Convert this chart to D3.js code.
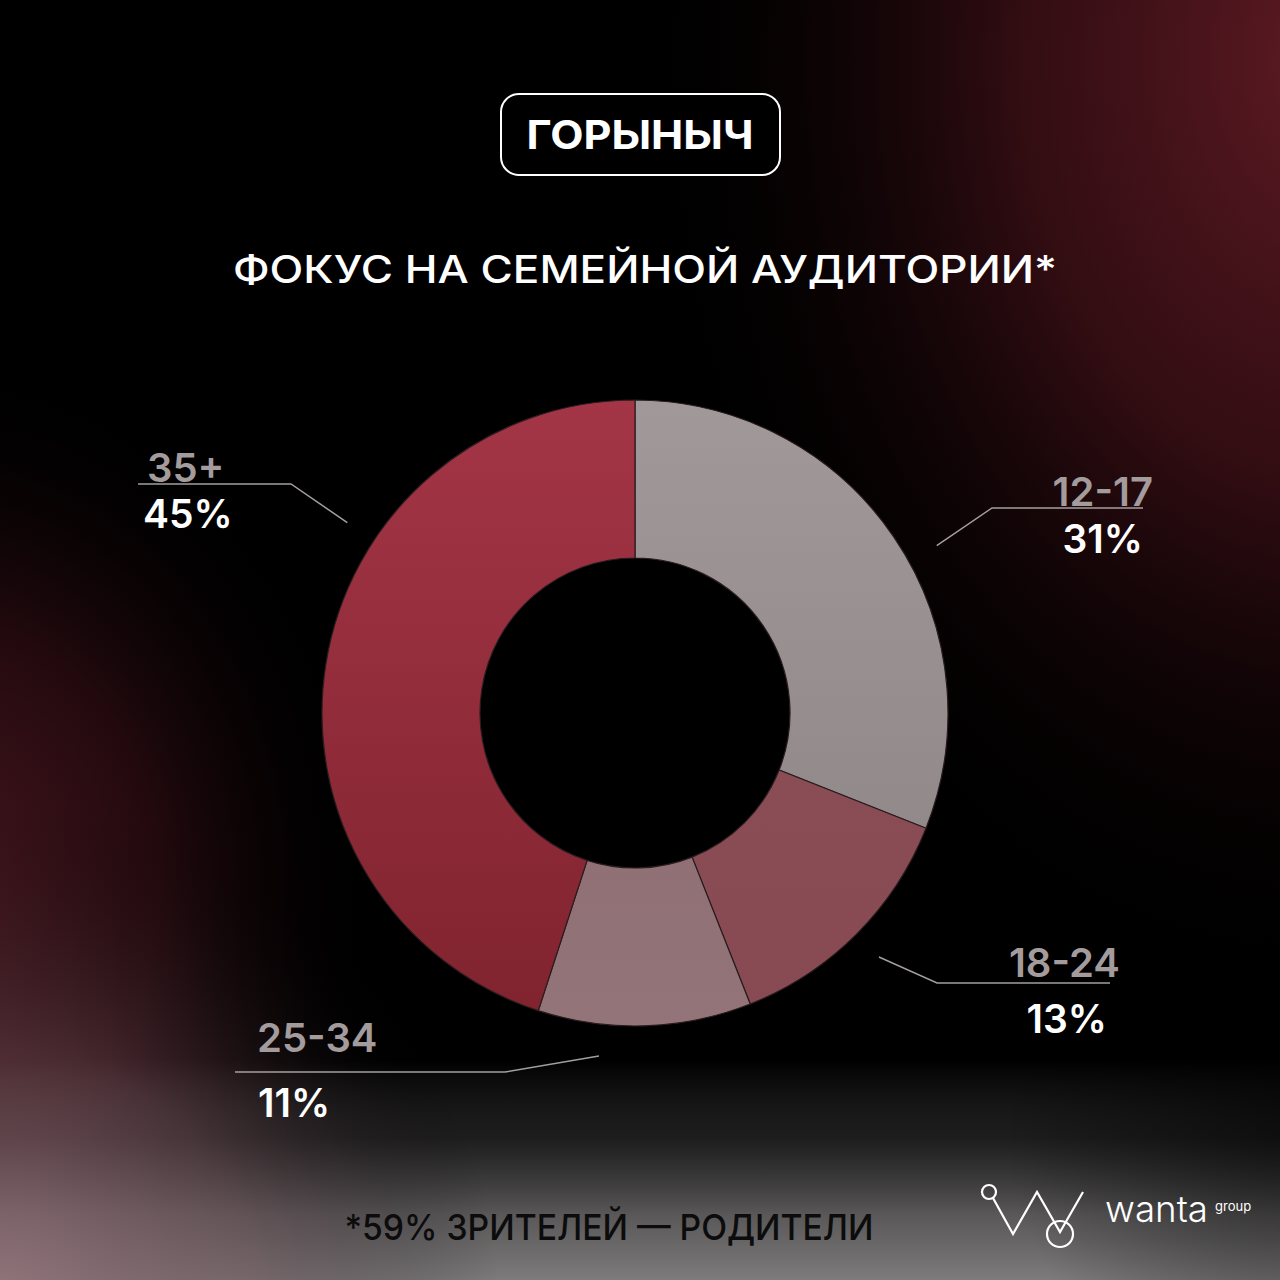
<!DOCTYPE html>
<html>
<head>
<meta charset="utf-8">
<script src="https://cdn.jsdelivr.net/npm/d3@7"></script>
<style>
  html, body { margin: 0; padding: 0; background: #000; }
  svg { display: block; }
  text { font-family: Inter, "Open Sans", "DejaVu Sans", sans-serif; }
</style>
</head>
<body>
<svg id="chart" width="1280" height="1280"></svg>
<script>
// ---- data ----
const categories = ["12-17", "18-24", "25-34", "35+"];
const values = [31, 13, 11, 45];
const valueLabels = ["31%", "13%", "11%", "45%"];
const titleText = "ГОРЫНЫЧ";
const subtitleText = "ФОКУС НА СЕМЕЙНОЙ АУДИТОРИИ*";
const footnoteText = "*59% ЗРИТЕЛЕЙ — РОДИТЕЛИ";

// ---- styles / layout ----
const sliceColors = [
  ["#a19899", "#8b8283"],
  ["#8e5159", "#874a52"],
  ["#87666c", "#937479"],
  ["#a33546", "#80232f"]
];
const labelLayout = [
  { ang: 61,    elbow: [992, 508],  endX: 1143, side: "right", labelX: 1153, labelY: 506, valX: 1143, valY: 553 },
  { ang: 135,   elbow: [937, 983],  endX: 1110, side: "right", labelX: 1120, labelY: 977, valX: 1107, valY: 1033 },
  { ang: 186,   elbow: [505, 1072], endX: 235,  side: "left",  labelX: 257,  labelY: 1052, valX: 258, valY: 1117 },
  { ang: 303.5, elbow: [291, 484],  endX: 138,  side: "left",  labelX: 147,  labelY: 482, valX: 143, valY: 528 }
];

const W = 1280, H = 1280;
const cx = 635, cy = 713, rOuter = 313, rInner = 155, rLeader = 345;

const svg = d3.select("#chart");
const defs = svg.append("defs");

// ---- background ----
svg.append("rect").attr("width", W).attr("height", H).attr("fill", "#000");

function radial(id, stops, attrs) {
  const g = defs.append("radialGradient").attr("id", id).attr("gradientUnits", "userSpaceOnUse");
  Object.entries(attrs).forEach(([k, v]) => g.attr(k, v));
  stops.forEach(s => g.append("stop").attr("offset", s[0]).attr("stop-color", s[1]).attr("stop-opacity", s[2]));
  return g;
}
function linear(id, stops, attrs) {
  const g = defs.append("linearGradient").attr("id", id).attr("gradientUnits", "userSpaceOnUse");
  Object.entries(attrs).forEach(([k, v]) => g.attr(k, v));
  stops.forEach(s => g.append("stop").attr("offset", s[0]).attr("stop-color", s[1]).attr("stop-opacity", s[2]));
  return g;
}
// top-right red glow
radial("bgTR", [[0, "#5e1a24", 1], [0.45, "#3a0f15", 0.85], [1, "#000", 0]],
  { cx: 1330, cy: 60, r: 820, gradientTransform: "translate(1330,60) scale(0.85,1.15) translate(-1330,-60)" });
svg.append("rect").attr("width", W).attr("height", H).attr("fill", "url(#bgTR)");
// left red glow
radial("bgL", [[0, "#4a1820", 1], [0.5, "#2c0c12", 0.8], [1, "#000", 0]],
  { cx: -60, cy: 900, r: 440, gradientTransform: "translate(-60,900) scale(1,1.25) translate(60,-900)" });
svg.append("rect").attr("width", W).attr("height", H).attr("fill", "url(#bgL)");
// bottom gray band
linear("bgB", [[0, "#7a7879", 0], [0.35, "#4a4849", 0.4], [0.7, "#656364", 0.88], [1, "#7d7b7c", 1]],
  { x1: 0, y1: 1060, x2: 0, y2: 1280 });
svg.append("rect").attr("x", 0).attr("y", 1060).attr("width", W).attr("height", 220).attr("fill", "url(#bgB)");
// darken bottom right corner slightly
radial("bgBR", [[0, "#000", 0.55], [1, "#000", 0]], { cx: 1300, cy: 1110, r: 300 });
svg.append("rect").attr("width", W).attr("height", H).attr("fill", "url(#bgBR)");
// bottom-left pink tint
radial("bgBL", [[0, "#95747b", 0.85], [0.5, "#6e4e56", 0.45], [1, "#000", 0]],
  { cx: 0, cy: 1300, r: 500 });
svg.append("rect").attr("width", W).attr("height", H).attr("fill", "url(#bgBL)");

// ---- title box ----
svg.append("rect")
  .attr("x", 501).attr("y", 94).attr("width", 279).attr("height", 81)
  .attr("rx", 18).attr("fill", "#000").attr("stroke", "#fff").attr("stroke-width", 2);
svg.append("text")
  .attr("x", 640).attr("y", 149).attr("text-anchor", "middle")
  .attr("font-size", 40).attr("font-weight", 700).attr("fill", "#fff")
  .attr("textLength", 227).attr("lengthAdjust", "spacingAndGlyphs")
  .text(titleText);

// ---- subtitle ----
svg.append("text")
  .attr("x", 645).attr("y", 283).attr("text-anchor", "middle")
  .attr("font-size", 38).attr("font-weight", 500).attr("fill", "#fff")
  .attr("textLength", 824).attr("lengthAdjust", "spacingAndGlyphs")
  .text(subtitleText);

// ---- donut ----
const pie = d3.pie().value(d => d).sort(null);
const arcs = pie(values);
const arc = d3.arc().innerRadius(rInner).outerRadius(rOuter);

const g = svg.append("g").attr("transform", `translate(${cx},${cy})`);

sliceColors.forEach((c, i) => {
  const lg = defs.append("linearGradient").attr("id", "slice" + i)
    .attr("gradientUnits", "userSpaceOnUse")
    .attr("x1", 0).attr("y1", -rOuter).attr("x2", 0).attr("y2", rOuter);
  lg.append("stop").attr("offset", 0).attr("stop-color", c[0]);
  lg.append("stop").attr("offset", 1).attr("stop-color", c[1]);
});

g.selectAll("path.slice").data(arcs).join("path")
  .attr("class", "slice")
  .attr("d", arc)
  .attr("fill", (d, i) => `url(#slice${i})`)
  .attr("stroke", "#2a1c1e").attr("stroke-width", 1.2);

// ---- leader lines and labels ----
const lines = svg.append("g");
labelLayout.forEach((L, i) => {
  const a = L.ang * Math.PI / 180;
  const sx = cx + rLeader * Math.sin(a), sy = cy - rLeader * Math.cos(a);
  lines.append("polyline")
    .attr("points", `${sx},${sy} ${L.elbow[0]},${L.elbow[1]} ${L.endX},${L.elbow[1]}`)
    .attr("fill", "none").attr("stroke", "#a59e9f").attr("stroke-width", 1.5);
  const anchor = L.side === "right" ? "end" : "start";
  svg.append("text")
    .attr("x", L.labelX).attr("y", L.labelY).attr("text-anchor", anchor)
    .attr("font-size", 40).attr("font-weight", 600).attr("fill", "#a39b9c")
    .text(categories[i]);
  svg.append("text")
    .attr("x", L.valX).attr("y", L.valY).attr("text-anchor", anchor)
    .attr("font-size", 39).attr("font-weight", 600).attr("fill", "#fff")
    .text(valueLabels[i]);
});

// ---- footnote ----
svg.append("text")
  .attr("x", 609).attr("y", 1240).attr("text-anchor", "middle")
  .attr("font-size", 36).attr("font-weight", 500).attr("fill", "#0c0c0c")
  .attr("textLength", 529).attr("lengthAdjust", "spacingAndGlyphs")
  .text(footnoteText);

// ---- logo ----
const logo = svg.append("g").attr("fill", "none").attr("stroke", "#fff").attr("stroke-width", 2.2);
logo.append("circle").attr("cx", 989).attr("cy", 1192).attr("r", 7);
logo.append("polyline").attr("points", "993,1198 1013,1234 1037,1192 1060,1232 1083,1192");
logo.append("circle").attr("cx", 1060).attr("cy", 1234).attr("r", 13);
svg.append("text").attr("x", 1105).attr("y", 1222)
  .attr("font-size", 36).attr("font-weight", 300).attr("fill", "#fff")
  .attr("textLength", 103).attr("lengthAdjust", "spacingAndGlyphs")
  .text("wanta");
svg.append("text").attr("x", 1215).attr("y", 1211)
  .attr("font-size", 13).attr("font-weight", 400).attr("fill", "#fff")
  .text("group");
</script>
</body>
</html>
